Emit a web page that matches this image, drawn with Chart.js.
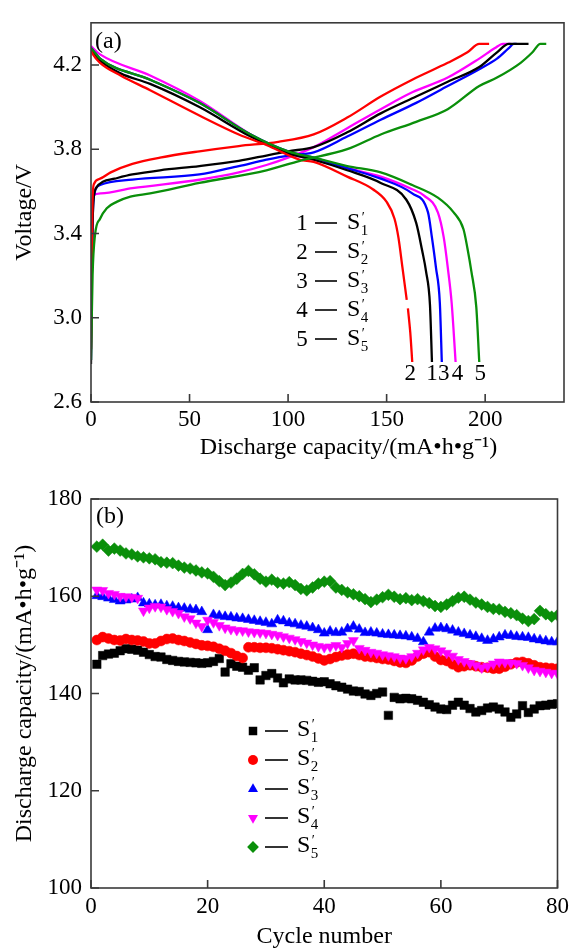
<!DOCTYPE html>
<html>
<head>
<meta charset="utf-8">
<script src="https://cdn.jsdelivr.net/npm/chart.js@4.4.1/dist/chart.umd.min.js"></script>
<style>
  html, body { margin: 0; padding: 0; background: #fff; }
  .panel { position: absolute; left: 0; width: 574px; height: 474px; }
  #panelA { top: 0; }
  #panelB { top: 474px; }
</style>
</head>
<body>
<div class="panel" id="panelA"><canvas id="chartA"></canvas></div>
<div class="panel" id="panelB"><canvas id="chartB"></canvas></div>
<script>
// ---- panel (a): charge / discharge curves, capacity (mA·h/g) vs voltage (V)
const s1ChargeCap = [0, 0.3, 0.7, 1.3, 2.9, 6, 12, 21, 35, 55, 75, 89, 100, 113, 130, 147, 165, 181, 197, 206, 212, 222];
const s1ChargeV   = [2.78, 3.10, 3.40, 3.56, 3.62, 3.645, 3.66, 3.68, 3.70, 3.72, 3.745, 3.77, 3.79, 3.81, 3.88, 3.97, 4.05, 4.12, 4.19, 4.26, 4.30, 4.30];
const s2ChargeCap = [0, 0.4, 0.8, 1.5, 4.6, 10, 21, 35, 55, 75, 95, 113, 130, 147, 163, 181, 191, 197, 202];
const s2ChargeV   = [2.85, 3.30, 3.56, 3.635, 3.66, 3.69, 3.73, 3.76, 3.79, 3.815, 3.835, 3.87, 3.95, 4.05, 4.13, 4.21, 4.26, 4.30, 4.30];
const s3ChargeCap = [0, 0.4, 0.8, 1.5, 4.6, 21, 55, 75, 89, 100, 113, 130, 147, 165, 181, 197, 206, 212, 214.5, 216];
const s3ChargeV   = [2.80, 3.20, 3.45, 3.58, 3.63, 3.656, 3.68, 3.72, 3.75, 3.77, 3.785, 3.86, 3.94, 4.02, 4.10, 4.18, 4.23, 4.28, 4.30, 4.30];
const s4ChargeCap = [0, 0.3, 0.6, 1, 5, 21, 55, 75, 89, 100, 113, 130, 147, 163, 181, 197, 205, 209, 213];
const s4ChargeV   = [2.85, 3.20, 3.50, 3.58, 3.59, 3.615, 3.655, 3.69, 3.725, 3.76, 3.81, 3.90, 3.99, 4.07, 4.14, 4.23, 4.28, 4.30, 4.30];
const s5ChargeCap = [0, 0.3, 0.8, 2, 4.6, 8, 13, 20, 30, 55, 89, 106, 130, 147, 165, 181, 197, 206, 218, 224, 228, 231];
const s5ChargeV   = [2.80, 2.95, 3.20, 3.39, 3.47, 3.52, 3.55, 3.575, 3.59, 3.64, 3.70, 3.745, 3.80, 3.87, 3.93, 3.99, 4.10, 4.14, 4.21, 4.26, 4.30, 4.30];

const s1DischCap = [0, 1, 4.6, 15, 30, 55, 81, 100, 113, 130, 147, 160, 165, 168, 170, 172, 173];
const s1DischV   = [4.27, 4.26, 4.22, 4.16, 4.11, 4.00, 3.86, 3.78, 3.75, 3.70, 3.64, 3.56, 3.45, 3.32, 3.22, 3.06, 2.79];
const s2DischCap = [0, 1, 4.6, 15, 30, 55, 75, 89, 106, 113, 130, 143, 150, 154, 156, 158, 160.2, 160.5, 160.8, 162, 163];
const s2DischV   = [4.27, 4.25, 4.21, 4.15, 4.08, 3.96, 3.87, 3.82, 3.75, 3.74, 3.67, 3.61, 3.55, 3.47, 3.38, 3.24, 3.085, null, 3.044, 2.93, 2.79];
const s3DischCap = [0, 1, 4.6, 30, 55, 81, 100, 113, 130, 147, 163, 171, 173, 175, 177, 178];
const s3DischV   = [4.28, 4.27, 4.23, 4.13, 4.02, 3.87, 3.79, 3.76, 3.71, 3.66, 3.59, 3.50, 3.38, 3.24, 3.07, 2.79];
const s4DischCap = [0, 1, 4.6, 30, 55, 81, 100, 113, 130, 147, 163, 169, 176, 179, 181, 183, 185];
const s4DischV   = [4.29, 4.28, 4.25, 4.15, 4.03, 3.87, 3.78, 3.75, 3.71, 3.67, 3.61, 3.58, 3.50, 3.38, 3.24, 3.07, 2.79];
const s5DischCap = [0, 1, 4.6, 30, 55, 81, 100, 113, 130, 147, 163, 176, 184, 189, 191, 193, 195.5, 197];
const s5DischV   = [4.28, 4.27, 4.23, 4.13, 4.02, 3.87, 3.79, 3.76, 3.72, 3.69, 3.63, 3.57, 3.50, 3.42, 3.33, 3.22, 3.05, 2.79];

const voltTicks = [2.6, 3.0, 3.4, 3.8, 4.2];
const capTicks  = [0, 50, 100, 150, 200];

// ---- panel (b): discharge capacity over 80 cycles
const cycles = Array.from({ length: 80 }, (_, i) => i + 1);
const s1Cycle = [146.0, 147.8, 148.1, 148.3, 148.8, 149.2, 149.1, 148.9, 148.5, 148.0,
  147.6, 147.5, 147.0, 146.8, 146.6, 146.5, 146.4, 146.3, 146.2, 146.3,
  146.6, 147.2, 144.4, 146.1, 145.6, 145.4, 144.8, 145.3, 142.8, 143.7,
  144.1, 143.2, 142.2, 143.0, 142.8, 142.8, 142.7, 142.5, 142.3, 142.4,
  142.0, 141.6, 141.3, 140.9, 140.5, 140.4, 139.9, 139.6, 140.0, 140.3,
  135.5, 139.2, 138.9, 139.0, 138.9, 138.6, 138.2, 137.7, 137.2, 136.8,
  136.7, 137.6, 138.2, 137.6, 136.9, 136.2, 136.5, 137.0, 137.2, 136.8,
  136.2, 135.1, 135.8, 137.5, 136.1, 136.8, 137.5, 137.6, 137.8, 137.9];
const s2Cycle = [151.0, 151.6, 151.3, 151.0, 150.9, 151.2, 151.0, 150.9, 150.7, 150.3,
  150.3, 150.8, 151.2, 151.3, 151.0, 150.8, 150.5, 150.2, 149.9, 149.8,
  149.6, 149.2, 148.8, 148.3, 147.7, 147.3, 149.5, 149.5, 149.4, 149.4,
  149.3, 149.1, 148.9, 148.7, 148.5, 148.2, 147.9, 147.6, 147.2, 146.8,
  147.1, 147.5, 147.8, 148.0, 148.2, 147.9, 147.6, 147.5, 147.3, 147.1,
  147.0, 146.7, 146.4, 146.3, 146.8, 147.6, 148.2, 148.5, 147.6, 146.9,
  146.7, 146.0, 145.4, 145.6, 145.8, 145.6, 145.4, 145.3, 145.1, 145.1,
  145.5, 146.0, 146.4, 146.5, 146.2, 145.8, 145.4, 145.3, 145.2, 145.1];
const s3Cycle = [160.1, 159.9, 159.6, 159.3, 159.0, 159.2, 159.4, 159.7, 158.6, 158.4,
  158.2, 158.3, 158.0, 157.9, 157.6, 157.5, 157.3, 157.2, 156.8, 153.1,
  156.2, 156.0, 155.8, 155.7, 155.5, 155.4, 155.2, 155.0, 154.8, 154.6,
  154.3, 155.1, 154.9, 154.5, 154.3, 154.0, 153.8, 153.5, 153.1, 152.4,
  152.8, 152.5, 152.6, 153.3, 153.8, 153.2, 152.5, 152.6, 152.4, 152.2,
  152.1, 152.0, 151.9, 151.8, 151.6, 151.3, 150.6, 152.6, 153.4, 153.5,
  153.3, 153.0, 152.6, 152.3, 152.0, 151.7, 151.3, 150.9, 151.2, 151.6,
  152.0, 151.9, 151.7, 151.6, 151.5, 151.2, 151.0, 150.8, 150.6, 150.6];
const s4Cycle = [161.3, 161.2, 160.6, 160.4, 160.0, 159.9, 159.8, 159.6, 157.0, 157.6,
  157.9, 157.8, 157.3, 156.9, 156.5, 155.8, 155.4, 154.5, 153.8, 155.1,
  154.6, 154.0, 153.5, 153.2, 153.0, 152.9, 152.7, 152.6, 152.5, 152.4,
  152.2, 152.0, 151.7, 151.4, 151.1, 150.7, 150.4, 150.0, 149.7, 149.5,
  149.6, 149.9, 149.5, 150.3, 150.9, 149.3, 148.9, 148.5, 148.3, 148.0,
  147.8, 147.6, 147.3, 147.2, 147.6, 148.3, 149.0, 149.5, 149.2, 148.8,
  148.3, 147.7, 147.0, 146.6, 146.2, 145.8, 145.3, 145.6, 146.1, 146.5,
  146.4, 146.3, 146.2, 145.8, 145.3, 144.8, 144.6, 144.4, 144.2, 144.1];
const s5Cycle = [170.2, 170.6, 169.4, 169.8, 169.4, 168.8, 168.6, 168.2, 168.0, 167.8,
  167.6, 167.0, 166.9, 166.8, 166.3, 165.9, 165.7, 165.3, 164.9, 164.7,
  164.0, 163.1, 162.3, 162.8, 163.6, 164.6, 165.2, 164.5, 163.6, 163.0,
  163.4, 162.8, 162.6, 162.9, 162.3, 161.5, 161.2, 161.8, 162.6, 163.0,
  163.1, 161.8, 161.3, 160.8, 160.4, 160.0, 159.4, 158.8, 159.3, 159.8,
  160.3, 159.9, 159.4, 159.6, 159.2, 159.4, 159.0, 158.6, 158.0, 157.8,
  158.3, 159.0, 159.7, 159.9, 159.3, 158.7, 158.3, 157.8, 157.4, 157.3,
  156.8, 156.5, 156.1, 155.4, 154.9, 155.3, 157.0, 156.3, 155.8, 156.1];

const capacityTicks = [100, 120, 140, 160, 180];
const cycleTicks    = [0, 20, 40, 60, 80];

// ---- look
const SERIF = '"Liberation Serif", "Times New Roman", serif';
const AXIS_COLOR = "#3a3a3a";
const CAP_TITLE = "Discharge capacity/(mA\u2022h\u2022g\u207B\u00B9)";
const sampleNames = ["1", "2", "3", "4", "5"];
const sampleColors = ["#000000", "#ff0000", "#0000ff", "#ff00ff", "#0a8f0a"];
const sampleStyles = ["rect", "circle", "triangle", "triangle", "rectRot"];
const sampleRotation = [0, 0, 0, 180, 0];
const sampleRadius = [6.0, 5.0, 5.8, 5.8, 5.9];

Chart.defaults.font.family = SERIF;
Chart.defaults.color = "#000";

const pairs = (xs, ys) => xs.map((x, i) => ({ x, y: ys[i] }));

function fixedTicks(list) {
  return (axis) => { axis.ticks = list.map((v) => ({ value: v })); };
}

// frame round the plot area plus inward tick marks
const framePlugin = {
  id: "frame",
  afterDatasetsDraw(chart) {
    const { ctx, chartArea: a, scales } = chart;
    ctx.save();
    ctx.strokeStyle = AXIS_COLOR;
    ctx.lineWidth = 1.6;
    ctx.strokeRect(a.left, a.top, a.right - a.left, a.bottom - a.top);
    ctx.beginPath();
    scales.x.ticks.forEach((t) => {
      const px = scales.x.getPixelForValue(t.value);
      ctx.moveTo(px, a.bottom);
      ctx.lineTo(px, a.bottom - 8);
    });
    scales.y.ticks.forEach((t) => {
      const py = scales.y.getPixelForValue(t.value);
      ctx.moveTo(a.left, py);
      ctx.lineTo(a.left + 8, py);
    });
    ctx.stroke();
    ctx.restore();
  },
};

function drawSName(ctx, x, y, n) {
  ctx.textAlign = "left";
  ctx.textBaseline = "middle";
  ctx.font = `24px ${SERIF}`;
  ctx.fillText("S", x, y);
  const w = ctx.measureText("S").width;
  ctx.font = `15px ${SERIF}`;
  ctx.fillText(n, x + w + 0.5, y + 8);
  ctx.font = `14px ${SERIF}`;
  ctx.fillText("\u2032", x + w + 1.5, y - 5);
}

function drawMarker(ctx, i, x, y) {
  ctx.save();
  ctx.fillStyle = sampleColors[i];
  ctx.translate(x, y);
  ctx.rotate((sampleRotation[i] * Math.PI) / 180);
  const r = sampleRadius[i];
  ctx.beginPath();
  if (sampleStyles[i] === "rect") {
    const s = r * Math.SQRT1_2;
    ctx.rect(-s, -s, 2 * s, 2 * s);
  } else if (sampleStyles[i] === "circle") {
    ctx.arc(0, 0, r, 0, Math.PI * 2);
  } else if (sampleStyles[i] === "triangle") {
    ctx.moveTo(0, -r);
    ctx.lineTo(r * Math.sin(Math.PI * 2 / 3), -r * Math.cos(Math.PI * 2 / 3));
    ctx.lineTo(-r * Math.sin(Math.PI * 2 / 3), -r * Math.cos(Math.PI * 2 / 3));
    ctx.closePath();
  } else {
    ctx.moveTo(0, -r); ctx.lineTo(r, 0); ctx.lineTo(0, r); ctx.lineTo(-r, 0);
    ctx.closePath();
  }
  ctx.fill();
  ctx.restore();
}

const notesA = {
  id: "notesA",
  afterDraw(chart) {
    const { ctx, chartArea: a, scales } = chart;
    ctx.save();
    ctx.fillStyle = "#000";
    ctx.font = `24px ${SERIF}`;
    ctx.textAlign = "left";
    ctx.textBaseline = "middle";
    ctx.fillText("(a)", a.left + 4, a.top + 19);

    // x title sits a bit right of the plot centre in the figure
    ctx.textAlign = "center";
    ctx.fillText(CAP_TITLE, (a.left + a.right) / 2 + 21, a.bottom + 46);

    // key: "1 — S′1" ...
    const rows = [223, 252, 281, 310, 339];
    rows.forEach((y, i) => {
      ctx.font = `23px ${SERIF}`;
      ctx.textAlign = "center";
      ctx.textBaseline = "middle";
      ctx.fillText(sampleNames[i], 302, y + 1);
      ctx.strokeStyle = "#000";
      ctx.lineWidth = 1.6;
      ctx.beginPath();
      ctx.moveTo(315, y);
      ctx.lineTo(337, y);
      ctx.stroke();
      drawSName(ctx, 347, y, sampleNames[i]);
    });

    // numbers under the discharge curve ends
    const ends = [s1DischCap, s2DischCap, s3DischCap, s4DischCap, s5DischCap];
    const nudge = [0, -2, 2, 2, 1];
    ctx.font = `23px ${SERIF}`;
    ctx.textAlign = "center";
    ctx.textBaseline = "middle";
    ends.forEach((caps, i) => {
      const px = scales.x.getPixelForValue(caps[caps.length - 1]) + nudge[i];
      ctx.fillText(sampleNames[i], px, a.bottom - 28);
    });
    ctx.restore();
  },
};

const notesB = {
  id: "notesB",
  afterDraw(chart) {
    const { ctx, chartArea: a } = chart;
    ctx.save();
    ctx.fillStyle = "#000";
    ctx.font = `24px ${SERIF}`;
    ctx.textAlign = "left";
    ctx.textBaseline = "middle";
    ctx.fillText("(b)", a.left + 5, a.top + 18);

    const rows = [257, 286, 315, 344, 373];
    rows.forEach((y, i) => {
      drawMarker(ctx, i, 253, y);
      ctx.strokeStyle = "#000";
      ctx.lineWidth = 1.6;
      ctx.beginPath();
      ctx.moveTo(265, y);
      ctx.lineTo(288, y);
      ctx.stroke();
      ctx.fillStyle = "#000";
      drawSName(ctx, 297, y - 1, sampleNames[i]);
    });
    ctx.restore();
  },
};

function axisX(ticks, min, max, title, tickPad, titlePad, height) {
  return {
    type: "linear", min, max,
    afterBuildTicks: fixedTicks(ticks),
    afterFit: (axis) => { axis.height = height; },
    grid: { display: false, drawTicks: false },
    border: { display: false },
    ticks: { font: { size: 23 }, padding: tickPad, color: "#000" },
    title: { display: !!title, text: title, font: { size: 24 }, color: "#000", padding: { top: 0, bottom: titlePad } },
  };
}

function axisY(ticks, min, max, title, fmt) {
  return {
    min, max,
    afterBuildTicks: fixedTicks(ticks),
    afterFit: (axis) => { axis.width = 91; },
    grid: { display: false, drawTicks: false },
    border: { display: false },
    ticks: { font: { size: 23 }, padding: 9, color: "#000", callback: fmt },
    title: { display: true, text: title, font: { size: 24 }, color: "#000", padding: { top: 10, bottom: 0 } },
  };
}

// ---- chart (a)
const curveSets = [
  [s1ChargeCap, s1ChargeV, s1DischCap, s1DischV],
  [s2ChargeCap, s2ChargeV, s2DischCap, s2DischV],
  [s3ChargeCap, s3ChargeV, s3DischCap, s3DischV],
  [s4ChargeCap, s4ChargeV, s4DischCap, s4DischV],
  [s5ChargeCap, s5ChargeV, s5DischCap, s5DischV],
];
const curveDatasets = [];
curveSets.forEach(([cc, cv, dc, dv], i) => {
  [pairs(cc, cv), pairs(dc, dv)].forEach((data) => {
    curveDatasets.push({
      data,
      borderColor: sampleColors[i],
      borderWidth: 2.3,
      pointRadius: 0,
      fill: false,
      cubicInterpolationMode: "monotone",
      spanGaps: false,
      clip: 0,
    });
  });
});
// draw order: magenta / red end up on top like in the figure
const orderA = [3, 2, 4, 5, 1];
curveDatasets.forEach((ds, k) => { ds.order = orderA[Math.floor(k / 2)]; });

new Chart(document.getElementById("chartA"), {
  type: "line",
  data: { datasets: curveDatasets },
  options: {
    responsive: true,
    maintainAspectRatio: false,
    animation: false,
    layout: { padding: { left: 0, top: 12, right: 10, bottom: 0 } },
    plugins: { legend: { display: false }, tooltip: { enabled: false } },
    scales: {
      x: axisX(capTicks, 0, 240, "", 4, 12, 72),
      y: axisY(voltTicks, 2.6, 4.4, "Voltage/V", (v) => Number(v).toFixed(1)),
    },
  },
  plugins: [framePlugin, notesA],
});

// ---- chart (b)
const cycleSeries = [s1Cycle, s2Cycle, s3Cycle, s4Cycle, s5Cycle];
const orderB = [5, 3, 4, 2, 1];
new Chart(document.getElementById("chartB"), {
  type: "line",
  data: {
    labels: cycles,
    datasets: cycleSeries.map((vals, i) => ({
      data: vals,
      showLine: false,
      pointStyle: sampleStyles[i],
      rotation: sampleRotation[i],
      pointRadius: sampleRadius[i],
      pointBackgroundColor: sampleColors[i],
      pointBorderColor: sampleColors[i],
      pointBorderWidth: 0.5,
      order: orderB[i],
      clip: 0,
    })),
  },
  options: {
    responsive: true,
    maintainAspectRatio: false,
    animation: false,
    layout: { padding: { left: 0, top: 25, right: 10, bottom: 0 } },
    plugins: { legend: { display: false }, tooltip: { enabled: false } },
    scales: {
      x: axisX(cycleTicks, 0, 80, "Cycle number", 5, -3, 60),
      y: axisY(capacityTicks, 100, 180, CAP_TITLE, (v) => v),
    },
  },
  plugins: [framePlugin, notesB],
});
</script>
</body>
</html>
